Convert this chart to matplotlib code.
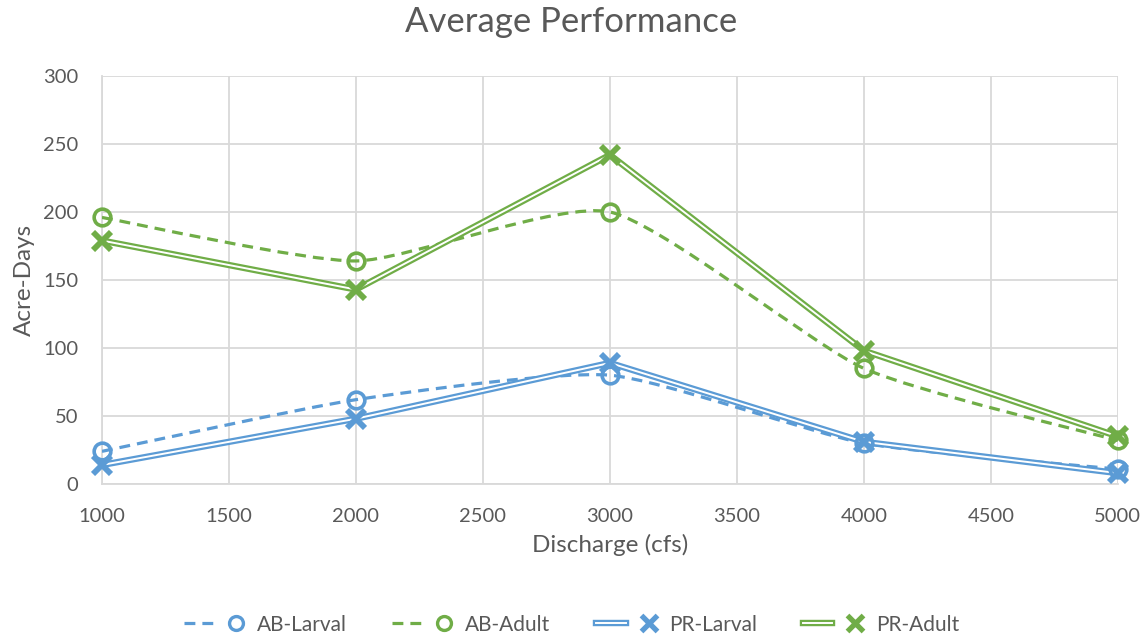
import matplotlib
matplotlib.use("Agg")
import matplotlib.pyplot as plt
import matplotlib.patheffects as pe
from matplotlib.path import Path
from matplotlib.patches import PathPatch
from matplotlib.lines import Line2D
from matplotlib.legend_handler import HandlerTuple
import numpy as np

discharge = [1000, 2000, 3000, 4000, 5000]
ab_larval = [24, 62, 80, 30, 11]
ab_adult = [196, 164, 200, 85, 32]
pr_larval = [14, 48, 89, 31, 8]
pr_adult = [179, 143, 242, 98, 35]
x_ticks = [1000, 1500, 2000, 2500, 3000, 3500, 4000, 4500, 5000]
y_ticks = [0, 50, 100, 150, 200, 250, 300]

BLUE = "#5B9BD5"
GREEN = "#70AD47"
GRAY = "#595959"
GRID = "#D9D9D9"
FONT = ["Lato", "DejaVu Sans"]

plt.rcParams['font.family'] = FONT

fig = plt.figure(figsize=(11.43, 6.36), dpi=100)
ax = fig.add_axes([0.0892, 0.239, 0.978 - 0.0892, 0.8805 - 0.239])


def smooth_path(xs, ys, k=0.1):
    pts = np.column_stack([xs, ys]).astype(float)
    n = len(pts)
    verts = [pts[0]]
    codes = [Path.MOVETO]
    for i in range(n - 1):
        p0 = pts[i - 1] if i > 0 else pts[i]
        p1 = pts[i]
        p2 = pts[i + 1]
        p3 = pts[i + 2] if i + 2 < n else pts[i + 1]
        c1 = p1 + (p2 - p0) * k
        c2 = p2 - (p3 - p1) * k
        verts += [c1, c2, p2]
        codes += [Path.CURVE4] * 3
    return Path(verts, codes)


DASH = (0, (3.4, 2.2))
handles = []
labels = []

# AB series: smoothed dashed lines with hollow circles
for ys, col, lab in [(ab_larval, BLUE, "AB-Larval"), (ab_adult, GREEN, "AB-Adult")]:
    patch = PathPatch(smooth_path(discharge, ys), facecolor="none", edgecolor=col,
                      lw=2.3, linestyle=DASH, capstyle="butt", zorder=3)
    ax.add_patch(patch)
    ax.plot(discharge, ys, linestyle="none", marker="o", markersize=12,
            markerfacecolor="none", markeredgecolor=col, markeredgewidth=2.6,
            zorder=5, clip_on=False)
    proxy = Line2D([], [], color=col, lw=2.3, linestyle=DASH)
    mproxy = Line2D([], [], linestyle="none", marker="o", markersize=10,
                    markerfacecolor="none", markeredgecolor=col, markeredgewidth=2.4)
    handles.append((proxy, mproxy))
    labels.append(lab)

# PR series: double (compound) lines with X markers
for ys, col, lab in [(pr_larval, BLUE, "PR-Larval"), (pr_adult, GREEN, "PR-Adult")]:
    ln, = ax.plot(discharge, ys, color="white", lw=1.4, zorder=4, clip_on=False,
                  path_effects=[pe.Stroke(linewidth=4.6, foreground=col), pe.Normal()])
    ax.plot(discharge, ys, linestyle="none", marker="x", markersize=13,
            markeredgecolor=col, markeredgewidth=4.2, zorder=6, clip_on=False)
    mproxy = Line2D([], [], linestyle="none", marker="x", markersize=11,
                    markeredgecolor=col, markeredgewidth=3.8)
    handles.append((ln, mproxy))
    labels.append(lab)

ax.set_xlim(1000, 5000)
ax.set_ylim(0, 300)
ax.set_xticks(x_ticks)
ax.set_yticks(y_ticks)
ax.grid(True, color=GRID, lw=1.3)
ax.set_axisbelow(True)
for s in ["top", "right"]:
    ax.spines[s].set_visible(False)
for s in ["left", "bottom"]:
    ax.spines[s].set_color(GRID)
    ax.spines[s].set_linewidth(1.3)
ax.tick_params(length=0, labelsize=14.5, labelcolor=GRAY)
ax.tick_params(axis="x", pad=17)
ax.tick_params(axis="y", pad=17)

ax.set_xlabel("Discharge (cfs)", fontsize=17.5, color=GRAY, labelpad=7)
ax.set_ylabel("Acre-Days", fontsize=17.5, color=GRAY, labelpad=6)
fig.text(0.5, 0.965, "Average Performance", ha="center", va="center",
         fontsize=25, color=GRAY)

leg = fig.legend(handles, labels, loc="center", bbox_to_anchor=(0.5, 0.018),
                 ncol=4, frameon=False, fontsize=15, labelcolor=GRAY,
                 handlelength=3.2, handletextpad=0.3, columnspacing=2.2,
                 handler_map={tuple: HandlerTuple(ndivide=None)})

fig.savefig("out.png", dpi=100)
